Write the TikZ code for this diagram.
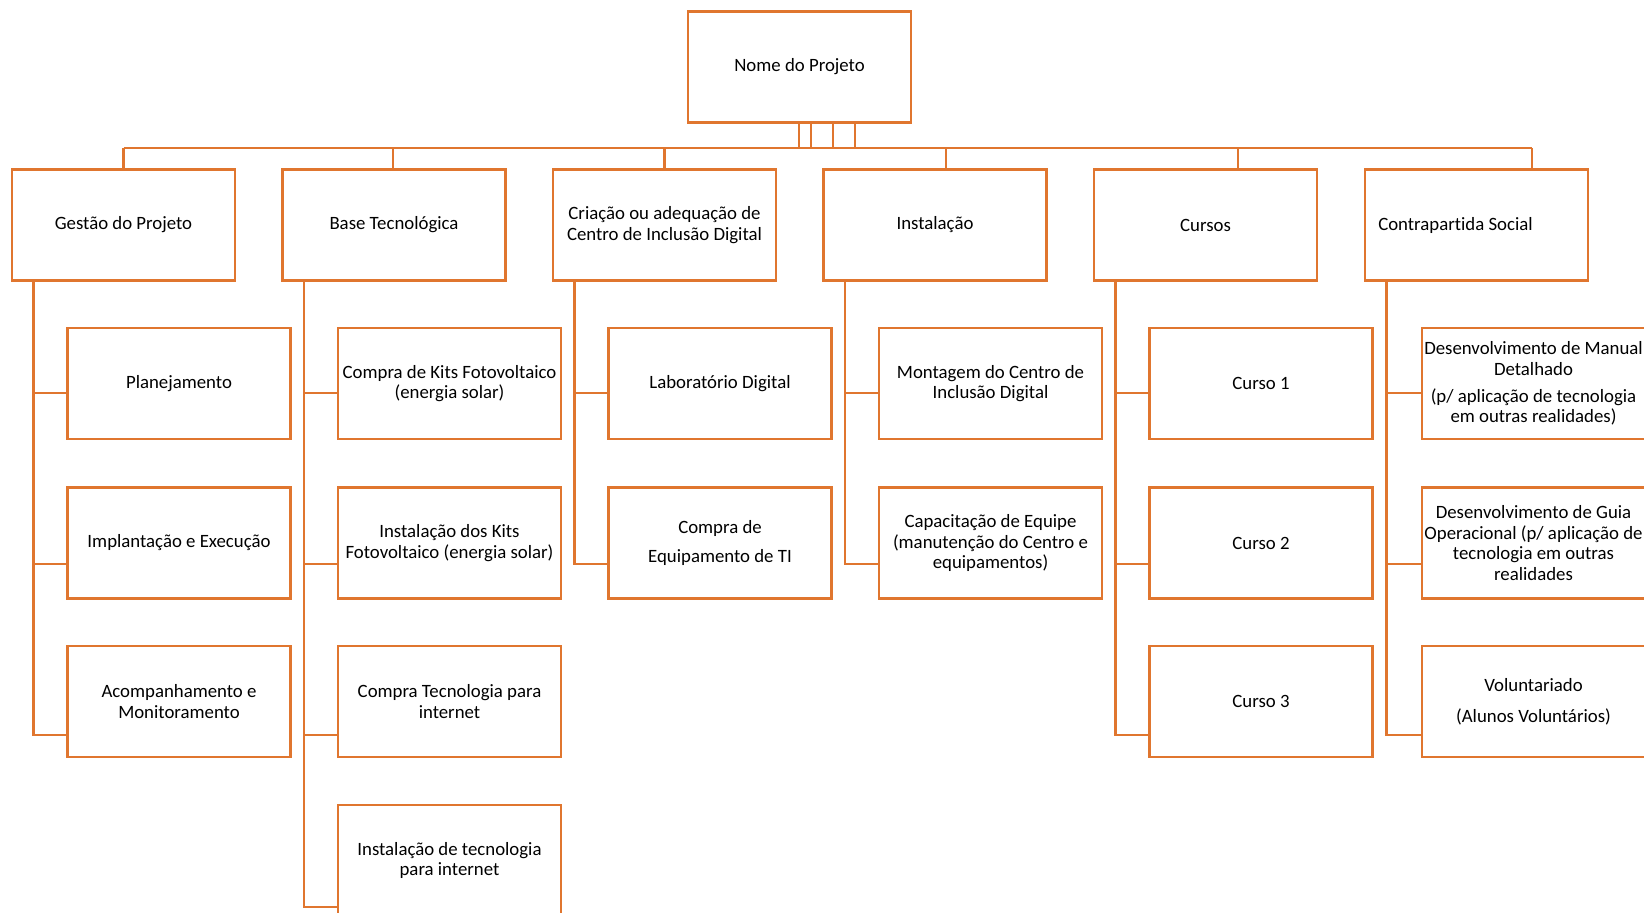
\documentclass[tikz,border=0pt]{standalone}
\usepackage{fontspec}
\setmainfont{Carlito}[Ligatures=NoCommon]
\definecolor{org}{HTML}{E0762F}
\begin{document}
\begin{tikzpicture}[x=0.5pt,y=-0.5pt,
  box/.style={draw=org, line width=1.25pt, minimum width=111.5pt, minimum height=55.5pt,
    inner sep=0pt, align=center, font=\fontsize{9.4}{10.2}\selectfont, text=black, fill=white},
  conn/.style={draw=org, line width=1.25pt}]
\useasboundingbox (0,0) rectangle (1644,913);
% top
\node[box] (top) at (799.5,67) {Nome do Projeto};
% level 1
\node[box] (g)  at (123.5,225) {Gestão do Projeto};
\node[box] (b)  at (394,225)   {Base Tecnológica};
\node[box] (c)  at (664.5,225) {Criação ou adequação de\\Centro de Inclusão Digital};
\node[box] (i)  at (935,225)   {Instalação};
\node[box] (cu) at (1205.5,225){Cursos};
\node[box] (cs) at (1476.5,225){Contrapartida Social\kern21pt};
% children
\node[box] (g1) at (179,383.5) {Planejamento};
\node[box] (g2) at (179,543)   {Implantação e Execução};
\node[box] (g3) at (179,701.5) {Acompanhamento e\\Monitoramento};
\node[box] (b1) at (449.5,383.5) {Compra de Kits Fotovoltaico\\(energia solar)};
\node[box] (b2) at (449.5,543)   {Instalação dos Kits\\Fotovoltaico (energia solar)};
\node[box] (b3) at (449.5,701.5) {Compra Tecnologia para\\internet};
\node[box] (b4) at (449.5,860.5) {Instalação de tecnologia\\para internet};
\node[box] (c1) at (720,383.5) {Laboratório Digital};
\node[box] (c2) at (720,543)   {Compra de\\[4.2pt]Equipamento de TI};
\node[box] (i1) at (990.5,383.5) {Montagem do Centro de\\Inclusão Digital};
\node[box] (i2) at (990.5,543)   {Capacitação de Equipe\\(manutenção do Centro e\\equipamentos)};
\node[box] (u1) at (1261,383.5) {Curso 1};
\node[box] (u2) at (1261,543)   {Curso 2};
\node[box] (u3) at (1261,701.5) {Curso 3};
\node[box] (s1) at (1533.5,383.5) {Desenvolvimento de Manual\\Detalhado\\[3.5pt](p/ aplicação de tecnologia\\em outras realidades)};
\node[box] (s2) at (1533.5,543)   {Desenvolvimento de Guia\\Operacional (p/ aplicação de\\tecnologia em outras\\realidades};
\node[box] (s3) at (1533.5,701.5) {Voluntariado\\[5.5pt](Alunos Voluntários)};
% bus
\coordinate (bus) at (0,148);
\foreach \n/\s in {g/0,b/-0.5,c/0,i/5.5,cu/16.25,cs/27.75}{
  \path ([xshift=\s pt]\n.north) coordinate (t\n);
  \draw[conn] (t\n) -- (t\n |- bus);
}
\draw[conn] (tg |- bus) -- (tcs |- bus);
\foreach \s in {-0.25,5.75,16.75,27.75}{
  \path ([xshift=\s pt]top.south) coordinate (tt);
  \draw[conn] (tt) -- (tt |- bus);
}
% child connectors
\foreach \p/\k/\dy in {g/g1/-4.75,g/g2/-10.5,g/g3/-16.75,
  b/b1/-4.75,b/b2/-10.5,b/b3/-16.75,b/b4/-23.25,
  c/c1/-4.75,c/c2/-10.5,
  i/i1/-4.75,i/i2/-10.5,
  cu/u1/-4.75,cu/u2/-10.5,cu/u3/-16.75,
  cs/s1/-4.75,cs/s2/-10.5,cs/s3/-16.75}{
  \draw[conn] ([xshift=-45pt]\p.south) |- ([yshift=\dy pt]\k.west);
}
\end{tikzpicture}
\end{document}
